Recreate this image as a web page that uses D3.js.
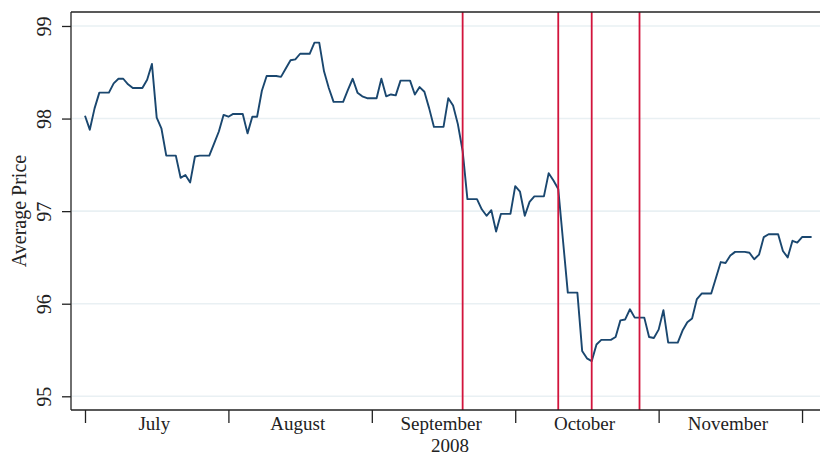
<!DOCTYPE html>
<html>
<head>
<meta charset="utf-8">
<script src="https://cdn.jsdelivr.net/npm/d3@7"></script>
<style>
  html, body { margin: 0; padding: 0; background: #fff; }
  svg { display: block; font-family: "Liberation Serif", "DejaVu Serif", serif; }
</style>
</head>
<body>
<svg id="chart" width="820" height="456"></svg>
<script>
// ---- data ----
const startDate = "2008-07-01";
const price = [
  98.03, 97.88, 98.11, 98.28, 98.28, 98.28, 98.38, 98.43, 98.43, 98.37,
  98.33, 98.33, 98.33, 98.42, 98.59, 98.01, 97.89, 97.60, 97.60, 97.60,
  97.36, 97.39, 97.31, 97.59, 97.60, 97.60, 97.60, 97.73, 97.86, 98.04,
  98.02, 98.05, 98.05, 98.05, 97.84, 98.02, 98.02, 98.30, 98.46, 98.46,
  98.46, 98.45, 98.54, 98.63, 98.64, 98.70, 98.70, 98.70, 98.82, 98.82,
  98.51, 98.33, 98.18, 98.18, 98.18, 98.31, 98.43, 98.28, 98.24, 98.22,
  98.22, 98.22, 98.43, 98.24, 98.26, 98.25, 98.41, 98.41, 98.41, 98.26,
  98.34, 98.29, 98.11, 97.91, 97.91, 97.91, 98.22, 98.14, 97.94, 97.65,
  97.13, 97.13, 97.13, 97.02, 96.95, 97.01, 96.78, 96.97, 96.97, 96.97,
  97.27, 97.21, 96.95, 97.10, 97.16, 97.16, 97.16, 97.41, 97.33, 97.24,
  96.68, 96.12, 96.12, 96.12, 95.49, 95.41, 95.38, 95.56, 95.61, 95.61,
  95.61, 95.64, 95.82, 95.83, 95.94, 95.85, 95.85, 95.85, 95.64, 95.63,
  95.72, 95.93, 95.58, 95.58, 95.58, 95.71, 95.80, 95.84, 96.05, 96.11,
  96.11, 96.11, 96.28, 96.45, 96.44, 96.52, 96.56, 96.56, 96.56, 96.55,
  96.48, 96.53, 96.72, 96.75, 96.75, 96.75, 96.57, 96.50, 96.68, 96.66,
  96.72, 96.72, 96.72
];
const eventDates = ["2008-09-18", "2008-10-08", "2008-10-15", "2008-10-25"];
const tickDates = ["2008-07-01", "2008-07-31", "2008-08-30", "2008-09-29", "2008-10-29", "2008-11-28"];
const monthLabels = ["July", "August", "September", "October", "November"];
const yearLabel = "2008";
const yTicks = [95, 96, 97, 98, 99];
const yTitle = "Average Price";

// ---- layout ----
const W = 820, H = 456;
const plot = { left: 71, right: 821, top: 12, bottom: 410 };
const parse = d3.utcParse("%Y-%m-%d");
const t0 = parse(startDate);
const series = price.map((v, i) => ({ date: d3.utcDay.offset(t0, i), value: v }));
const tEnd = series[series.length - 1].date;

const x = d3.scaleUtc().domain([t0, tEnd]).range([85, 811.6]);
const y = d3.scaleLinear().domain([94.852, 99.151]).range([plot.bottom, plot.top]);

const svg = d3.select("#chart");
svg.append("rect").attr("width", W).attr("height", H).attr("fill", "#fff");

// gridlines
svg.append("g").selectAll("line").data(yTicks).join("line")
  .attr("x1", plot.left + 1).attr("x2", plot.right)
  .attr("y1", d => y(d)).attr("y2", d => y(d))
  .attr("stroke", "#e9f0f3").attr("stroke-width", 1.6);

// series line
const line = d3.line().x(d => x(d.date)).y(d => y(d.value));
svg.append("path").datum(series)
  .attr("d", line).attr("fill", "none")
  .attr("stroke", "#1a476f").attr("stroke-width", 1.9)
  .attr("stroke-linejoin", "round");

// event lines
svg.append("g").selectAll("line").data(eventDates.map(parse)).join("line")
  .attr("x1", d => x(d)).attr("x2", d => x(d))
  .attr("y1", plot.top).attr("y2", plot.bottom)
  .attr("stroke", "#d2143c").attr("stroke-width", 1.8);

// frame top
svg.append("line").attr("x1", plot.left).attr("x2", plot.right)
  .attr("y1", plot.top).attr("y2", plot.top)
  .attr("stroke", "#222").attr("stroke-width", 1.3);

// y axis
const yAxis = d3.axisLeft(y).tickValues(yTicks).tickSize(9).tickPadding(12).tickFormat(d3.format("d"));
const gy = svg.append("g").attr("transform", `translate(${plot.left},0)`).call(yAxis);
gy.select(".domain").attr("d", `M0,${plot.top}V${plot.bottom}`).attr("stroke", "#222").attr("stroke-width", 1.3);
gy.selectAll(".tick line").attr("stroke", "#222").attr("stroke-width", 1.3);
gy.selectAll(".tick text")
  .attr("font-family", "Liberation Serif, serif").attr("font-size", 20).attr("fill", "#222")
  .attr("text-anchor", "middle").attr("x", null).attr("dy", null)
  .attr("transform", "translate(-27,0) rotate(-90)")
  .attr("dominant-baseline", "central");

// x axis
const xAxis = d3.axisBottom(x).tickValues(tickDates.map(parse)).tickSize(13).tickFormat("");
const gx = svg.append("g").attr("transform", `translate(0,${plot.bottom})`).call(xAxis);
gx.select(".domain").attr("d", `M${plot.left},0H${plot.right}`).attr("stroke", "#222").attr("stroke-width", 1.3);
gx.selectAll(".tick line").attr("stroke", "#222").attr("stroke-width", 1.3);

// month labels between ticks
const tickD = tickDates.map(parse);
svg.append("g").selectAll("text").data(monthLabels).join("text")
  .attr("x", (d, i) => x(d3.utcHour.offset(tickD[i], 14.5 * 24)))
  .attr("y", 430)
  .attr("text-anchor", "middle")
  .attr("font-size", 19).attr("fill", "#222")
  .text(d => d);

// year (axis title)
svg.append("text")
  .attr("x", (plot.left + plot.right) / 2 + 4).attr("y", 451.5)
  .attr("text-anchor", "middle").attr("font-size", 19).attr("fill", "#222")
  .text(yearLabel);

// y title
svg.append("text")
  .attr("transform", `translate(26,${(plot.top + plot.bottom) / 2}) rotate(-90)`)
  .attr("text-anchor", "middle").attr("font-size", 20).attr("fill", "#222")
  .text(yTitle);
</script>
</body>
</html>
